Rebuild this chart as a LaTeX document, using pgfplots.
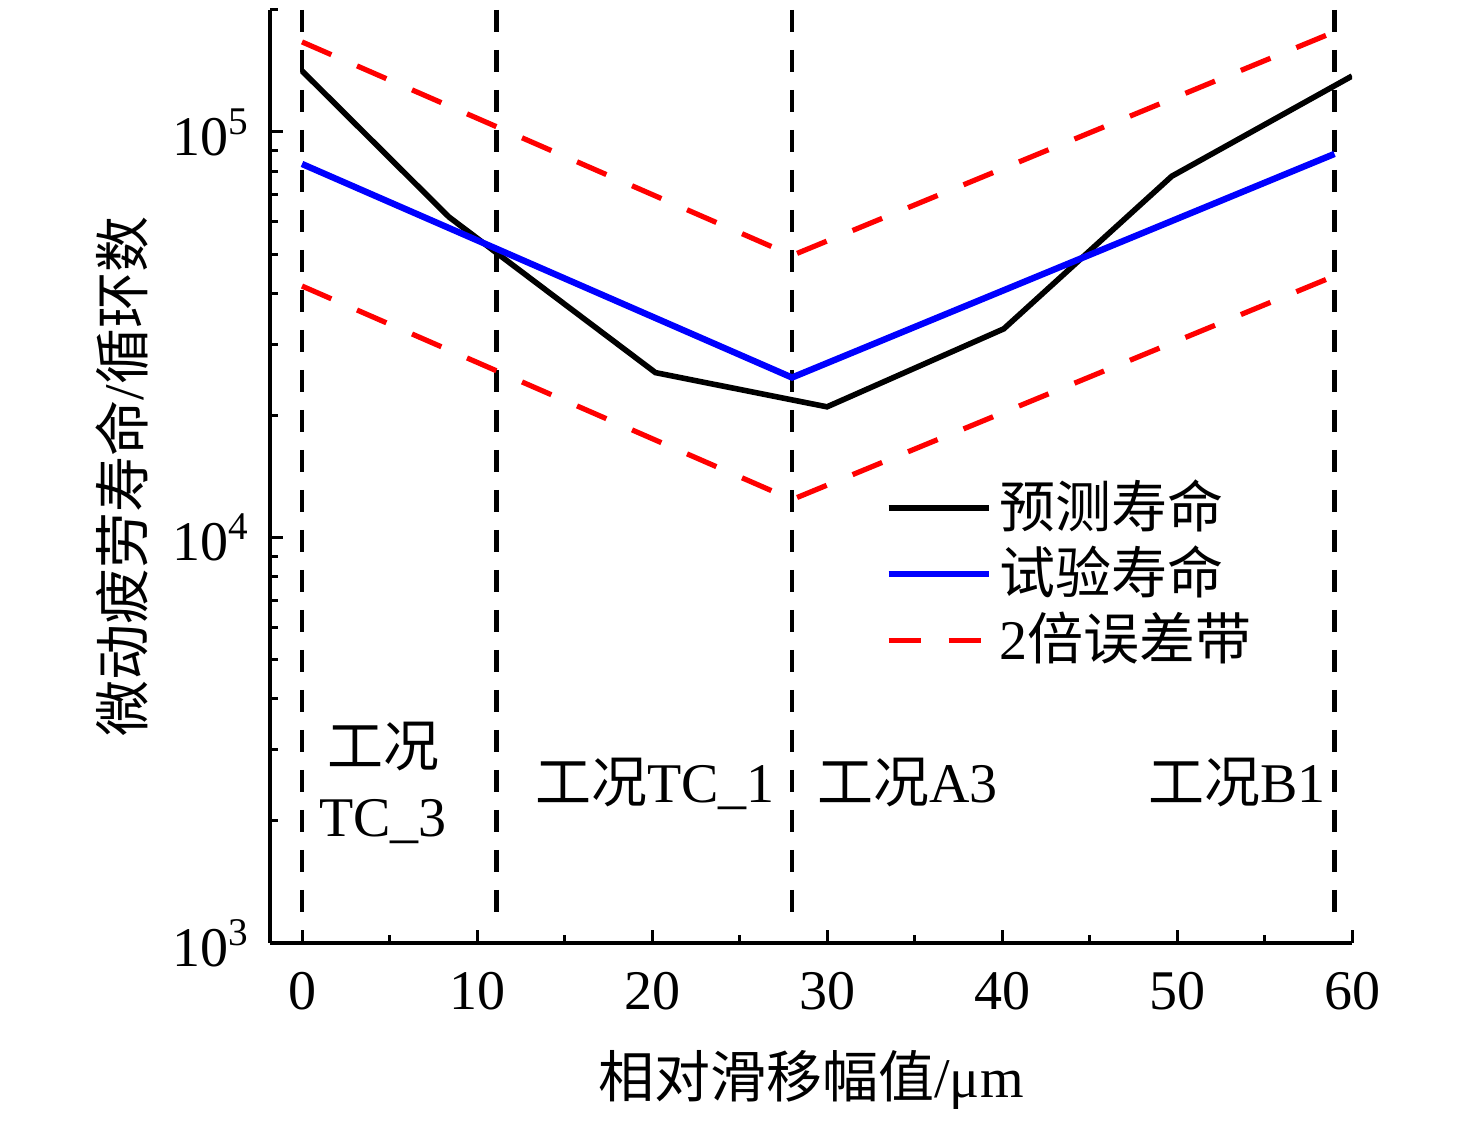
\documentclass[border=0pt]{standalone}
\usepackage{fontspec}
\setmainfont{Liberation Serif}
\newfontfamily\cjk{Noto Sans CJK SC}
\usepackage{pgfplots}
\pgfplotsset{compat=1.18}
\begin{document}
\fontsize{14}{17}\selectfont
\begin{tikzpicture}
\begin{axis}[
  at={(0,0)}, anchor=south west,
  scale only axis,
  width=270.5pt, height=233.25pt,
  xmin=-1.83, xmax=60,
  ymode=log, ymin=1000, ymax=200000,
  axis lines*=left,
  axis line style={line width=1pt},
  tick align=inside,
  major tick length=3.3pt, minor tick length=1.9pt,
  every tick/.style={line width=0.75pt, black},
  xtick={0,10,...,60}, minor x tick num=1,
  ytick={1000,10000,100000},
  yticklabels={10\textsuperscript{3},10\textsuperscript{4},10\textsuperscript{5}},
  minor ytick={2000,3000,4000,5000,6000,7000,8000,9000,20000,30000,40000,50000,60000,70000,80000,90000,200000},
  /pgf/number format/assume math mode=true,
  tick label style={font=\fontsize{14}{16}\selectfont},
  xticklabel style={yshift=-2.5pt},
  xlabel={{\cjk 相对滑移幅值}/μm},
  ylabel={{\cjk 微动疲劳寿命}/{\cjk 循环数}},
  every axis x label/.style={at={(axis description cs:0.5,-0.147)}, anchor=center, font=\fontsize{14}{16}\selectfont},
  every axis y label/.style={at={(axis description cs:-0.137,0.5)}, anchor=center, rotate=90, font=\fontsize{14}{16}\selectfont},
  legend style={at={(axis description cs:0.568,0.497)}, anchor=north west, draw=none, fill=none,
    inner sep=0pt, row sep=2.5pt, font=\fontsize{14}{16}\selectfont,
    nodes={inner sep=0pt}},
  legend cell align=left,
  /tikz/every odd column/.append style={column sep=2pt},
  legend image code/.code={\draw[#1] (0pt,0pt) -- (25pt,0pt);},
]
% vertical separators
\addplot[forget plot, black, line width=1.2pt, dash pattern=on 5.5pt off 4.5pt] coordinates {(0,200000) (0,1150)};
\addplot[forget plot, black, line width=1.2pt, dash pattern=on 5.5pt off 4.5pt] coordinates {(11.1,200000) (11.1,1150)};
\addplot[forget plot, black, line width=1.2pt, dash pattern=on 5.5pt off 4.5pt] coordinates {(28,200000) (28,1150)};
\addplot[forget plot, black, line width=1.2pt, dash pattern=on 5.5pt off 4.5pt] coordinates {(59,200000) (59,1150)};
% predicted
\addplot[black, line width=1.4pt] coordinates {(0,141500) (8.4,61700) (20.2,25500) (30,21000) (40.1,32700) (49.7,77800) (60,137400)};
\addlegendentry{{\cjk 预测寿命}}
% test
\addplot[blue, line width=1.6pt] coordinates {(0,83400) (28,24800) (59,88300)};
\addlegendentry{{\cjk 试验寿命}}
% 2x band
\addplot[red, line width=1.3pt, dash pattern=on 8pt off 7pt] coordinates {(0,166800) (28,49600) (59,176600)};
\addlegendentry{2{\cjk 倍误差带}}
\addplot[forget plot, red, line width=1.3pt, dash pattern=on 8pt off 7pt] coordinates {(0,41700) (28,12400) (59,44150)};
% annotations
\node[anchor=base, inner sep=0pt] at (axis cs:4.63,2720) {\cjk 工况};
\node[anchor=base, inner sep=0pt] at (axis cs:4.63,1827) {TC\_3};
\node[anchor=base, inner sep=0pt] at (axis cs:20.17,2218) {{\cjk 工况}TC\_1};
\node[anchor=base, inner sep=0pt] at (axis cs:34.6,2218) {{\cjk 工况}A3};
\node[anchor=base, inner sep=0pt] at (axis cs:53.43,2218) {{\cjk 工况}B1};
\end{axis}
\pgfresetboundingbox
\path[use as bounding box] (-67.5pt,-44.75pt) rectangle (301.5pt,235.75pt);
\end{tikzpicture}
\end{document}
